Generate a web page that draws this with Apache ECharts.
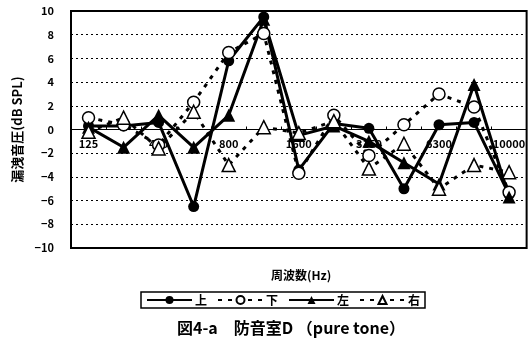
<!DOCTYPE html>
<html>
<head>
<meta charset="utf-8">
<script src="https://cdn.jsdelivr.net/npm/echarts@6/dist/echarts.min.js"></script>
<style>
  html, body { margin: 0; padding: 0; background: #fff; }
  #chart { width: 528px; height: 347px; }
</style>
</head>
<body>
<div id="chart"></div>
<script>
// Frequency bands (Hz); only every other band carries a label on the axis
const frequencies = ['125', '250', '400', '500', '800', '1000', '1600', '2000', '3150', '4000', '6300', '8000', '10000'];

// Leakage sound pressure level per microphone position (dB SPL)
const upValues    = [0.3, 0.3, 0.6, -6.5, 5.8, 9.5, -3.4, 0.5, 0.1, -5.0, 0.4, 0.6, -5.5];
const downValues  = [1.0, 0.4, -1.3, 2.3, 6.5, 8.1, -3.7, 1.2, -2.2, 0.4, 3.0, 1.9, -5.3];
const leftValues  = [0.2, -1.5, 1.2, -1.5, 1.2, 9.3, -0.5, 0.3, -1.0, -2.8, -4.6, 3.8, -5.7];
const rightValues = [-0.2, 1.0, -1.6, 1.5, -3.0, 0.2, -0.3, 0.7, -3.3, -1.2, -5.0, -3.0, -3.6];

const seriesNames = ['上', '下', '左', '右'];

const FONT = '"Noto Sans CJK JP", "DejaVu Sans", sans-serif';

// Plot box
const GRID_TOP = 11, GRID_HEIGHT = 237;
const Y_MIN = -10, Y_MAX = 10;
// distance from the bottom frame up to the 0 dB line, so the category axis sits on it
const zeroOffset = -GRID_HEIGHT * (0 - Y_MIN) / (Y_MAX - Y_MIN);

function solidSeries(name, data, symbol, size) {
  return {
    type: 'line', name, data, symbol, symbolSize: size,
    itemStyle: { color: '#000' },
    lineStyle: { color: '#000', width: 3 },
    emphasis: { disabled: true }
  };
}
function openSeries(name, data, symbol, size) {
  return {
    type: 'line', name, data, symbol, symbolSize: size,
    itemStyle: { color: '#fff', borderColor: '#000', borderWidth: 1.5 },
    lineStyle: { color: '#000', width: 3, type: [4, 6] },
    emphasis: { disabled: true }
  };
}

const chart = echarts.init(document.getElementById('chart'), null, { renderer: 'canvas' });
chart.setOption({
  animation: false,
  backgroundColor: '#fff',
  textStyle: { fontFamily: FONT },
  title: [
    {
      text: '周波数(Hz)', left: 266, top: 264,
      textStyle: { fontFamily: FONT, fontSize: 12, fontWeight: 'bold', color: '#000' }
    },
    {
      text: '図4-a　防音室D （pure tone）', left: 172, top: 315,
      textStyle: { fontFamily: FONT, fontSize: 16, fontWeight: 'bold', color: '#000' }
    }
  ],
  legend: {
    data: seriesNames,
    left: 141, top: 292,
    padding: [2, 5],
    borderColor: '#000', borderWidth: 1.5,
    itemWidth: 45, itemHeight: 10, itemGap: 10,
    textStyle: { fontFamily: FONT, fontSize: 12, fontWeight: 'bold', color: '#000', padding: [0, 0, 0, -2] }
  },
  grid: {
    left: 71, top: GRID_TOP, width: 464, height: GRID_HEIGHT,
    show: true, borderColor: '#000', borderWidth: 2,
    backgroundColor: 'transparent'
  },
  xAxis: {
    type: 'category',
    data: frequencies,
    boundaryGap: true,
    position: 'bottom',
    offset: zeroOffset,
    axisLine: { onZero: false, lineStyle: { color: '#000', width: 1 } },
    axisTick: { show: true, inside: true, length: 3, interval: 0, lineStyle: { color: '#000' } },
    axisLabel: {
      interval: 1, margin: 9, color: '#000',
      fontFamily: FONT, fontSize: 11, fontWeight: 'bold'
    },
    splitLine: { show: false }
  },
  yAxis: {
    type: 'value',
    min: Y_MIN, max: Y_MAX, interval: 2,
    name: '漏洩音圧(dB SPL)',
    nameLocation: 'middle', nameGap: 44, nameRotate: 90,
    nameTextStyle: { fontFamily: FONT, fontSize: 13, fontWeight: 'bold', color: '#000' },
    axisLine: { show: true, lineStyle: { color: '#000', width: 2 } },
    axisTick: { show: false },
    axisLabel: {
      margin: 17, color: '#000', fontFamily: FONT, fontSize: 11, fontWeight: 'bold',
      formatter: v => (v < 0 ? '−' + Math.abs(v) : String(v))
    },
    splitLine: { show: true, lineStyle: { color: '#000', width: 1, type: [2, 3] } }
  },
  series: [
    solidSeries('上', upValues, 'circle', 11),
    openSeries('下', downValues, 'circle', 12),
    solidSeries('左', leftValues, 'triangle', 13),
    openSeries('右', rightValues, 'triangle', 13)
  ]
});
</script>
</body>
</html>
